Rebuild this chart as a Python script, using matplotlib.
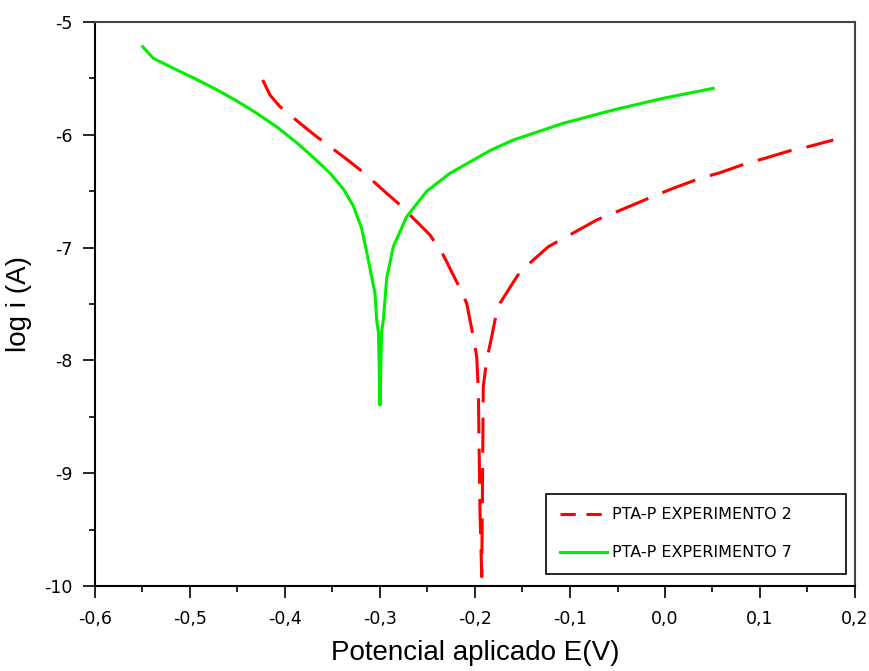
import matplotlib
matplotlib.use("Agg")
import matplotlib.pyplot as plt
from matplotlib.ticker import MultipleLocator, FuncFormatter

plt.rcParams['font.family'] = ['Liberation Sans', 'DejaVu Sans']

# Tafel curves: applied potential E (V) vs log i (A)
exp2_E = [-0.4235, -0.4158, -0.4053, -0.3842, -0.3666, -0.3386, -0.3184, -0.2929,
          -0.2789, -0.2474, -0.2334, -0.2176, -0.2087, -0.2053, -0.2018, -0.1982,
          -0.1965, -0.1947, -0.1929,
          -0.1913, -0.1877, -0.1824, -0.1789, -0.1737, -0.1649, -0.1526, -0.1228,
          -0.1035, -0.0719, -0.0508, -0.0116, 0.0087, 0.0368, 0.0579, 0.0860,
          0.1053, 0.1316, 0.1508, 0.1772]
exp2_logi = [-5.514, -5.647, -5.751, -5.898, -6.017, -6.194, -6.327, -6.519,
             -6.622, -6.888, -7.066, -7.332, -7.494, -7.642, -7.790, -7.967,
             -8.262, -9.356, -9.918,
             -8.233, -7.996, -7.790, -7.642, -7.494, -7.376, -7.214, -6.992,
             -6.903, -6.755, -6.682, -6.543, -6.474, -6.386, -6.336, -6.253,
             -6.208, -6.141, -6.105, -6.046]

exp7_E = [-0.5498, -0.5386, -0.5176, -0.4929, -0.4719, -0.4508, -0.4298, -0.4087,
          -0.3877, -0.3702, -0.3526, -0.3386, -0.3281, -0.3193, -0.3123, -0.3053,
          -0.3035, -0.3016, -0.3000,
          -0.2984, -0.2965, -0.2929, -0.2860, -0.2719, -0.2508, -0.2263,
          -0.1842, -0.1597, -0.1071, -0.0544, -0.0018, 0.0508]
exp7_logi = [-5.219, -5.322, -5.410, -5.510, -5.600, -5.700, -5.809, -5.930,
             -6.070, -6.200, -6.340, -6.480, -6.630, -6.829, -7.110, -7.405,
             -7.642, -7.757, -8.395,
             -7.757, -7.642, -7.270, -6.992, -6.726, -6.500, -6.341,
             -6.140, -6.046, -5.898, -5.780, -5.676, -5.588]

labels = ["PTA-P EXPERIMENTO 2", "PTA-P EXPERIMENTO 7"]

fig = plt.figure(figsize=(8.7, 6.71), dpi=100)
ax = fig.add_axes([95 / 870, 1 - 586 / 671, 760 / 870, 564 / 671])

ax.plot(exp2_E, exp2_logi, color='#ff0000', lw=2.2, dashes=(11.5, 5),
        label=labels[0], solid_joinstyle='round')
ax.plot(exp7_E, exp7_logi, color='#00ee00', lw=2.2, label=labels[1],
        solid_joinstyle='round')

ax.set_xlim(-0.6, 0.2)
ax.set_ylim(-10, -5)
ax.xaxis.set_major_locator(MultipleLocator(0.1))
ax.xaxis.set_minor_locator(MultipleLocator(0.05))
ax.yaxis.set_major_locator(MultipleLocator(1))
ax.yaxis.set_minor_locator(MultipleLocator(0.5))
ax.xaxis.set_major_formatter(
    FuncFormatter(lambda v, p: f"{v:.1f}".replace('.', ',').replace('-0,0', '0,0')))
ax.yaxis.set_major_formatter(FuncFormatter(lambda v, p: f"{v:.0f}"))

ax.tick_params(which='both', direction='out', top=False, right=False, width=1.2,
               colors='black')
ax.tick_params(which='major', length=8.6)
ax.tick_params(which='minor', length=4.6)
ax.tick_params(axis='x', which='major', pad=8.5)
ax.tick_params(axis='y', which='major', pad=7.5)
for lbl in ax.get_xticklabels() + ax.get_yticklabels():
    lbl.set_fontfamily('DejaVu Sans')
    lbl.set_fontsize(12.5)

for side in ('left', 'bottom'):
    ax.spines[side].set_linewidth(1.5)
    ax.spines[side].set_color('black')
for side in ('top', 'right'):
    ax.spines[side].set_linewidth(1.5)
    ax.spines[side].set_color('#444444')

ax.set_xlabel("Potencial aplicado E(V)", fontsize=20, labelpad=9)
ax.set_ylabel("log i (A)", fontsize=20, labelpad=9)

leg = ax.legend(loc='lower left', bbox_to_anchor=(0.5934, 0.0213, 0.3947, 0.145),
                mode='expand', borderaxespad=0,
                prop={'family': 'DejaVu Sans', 'size': 11.5},
                handlelength=3.0, handletextpad=0.3, labelspacing=1.45,
                borderpad=0.85, fancybox=False, framealpha=1, edgecolor='black')
leg.get_frame().set_linewidth(1.2)
leg.get_lines()[0].set_dashes((5, 3.5))

fig.savefig("out.png", dpi=100)
